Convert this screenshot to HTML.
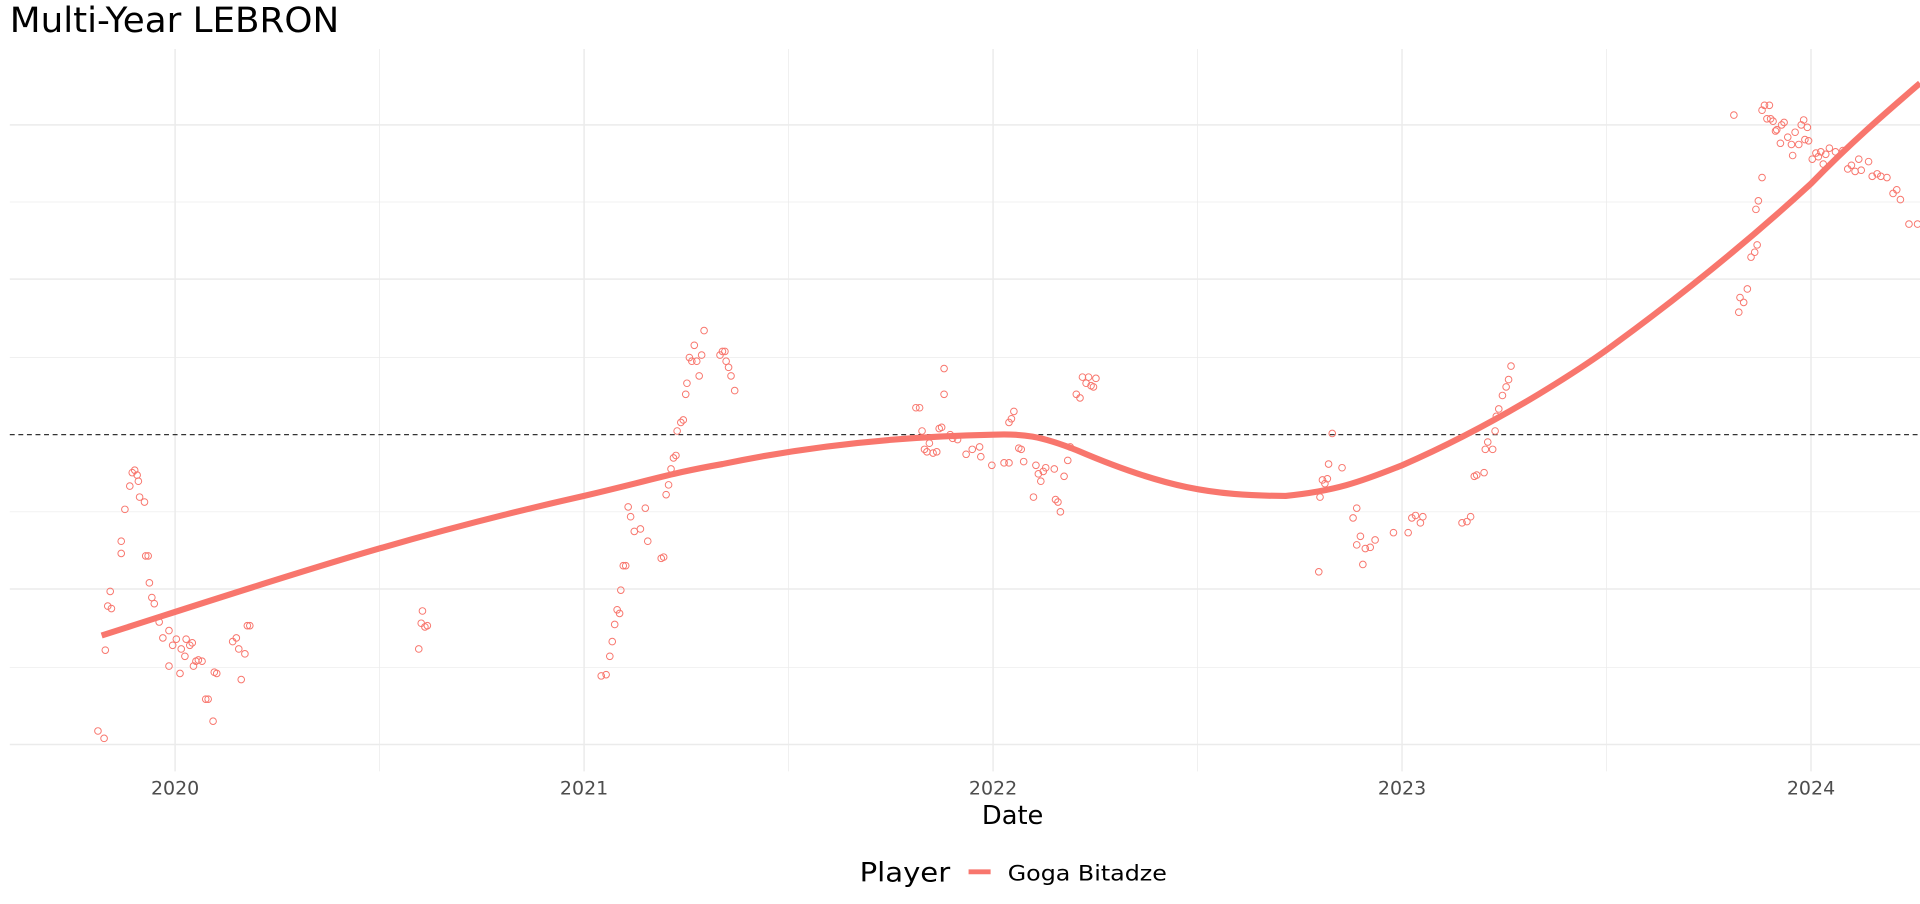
<!DOCTYPE html>
<html><head><meta charset="utf-8"><style>html,body{margin:0;padding:0;background:#fff;overflow:hidden}svg{display:block}</style></head>
<body>
<svg width="1920" height="904" viewBox="0 0 1568 738.3" preserveAspectRatio="none" xmlns="http://www.w3.org/2000/svg" font-family="DejaVu Sans, Liberation Sans, sans-serif">
<rect width="1568" height="738.3" fill="#fff"/>
<text x="8" y="26" font-size="28" fill="#000" textLength="269" lengthAdjust="spacingAndGlyphs">Multi-Year LEBRON</text>
<g stroke="#ebebeb" stroke-width="0.6">
<line x1="8" x2="1568" y1="165" y2="165"/><line x1="8" x2="1568" y1="292" y2="292"/><line x1="8" x2="1568" y1="418" y2="418"/><line x1="8" x2="1568" y1="545" y2="545"/>
<line x1="310" x2="310" y1="40" y2="630"/><line x1="644" x2="644" y1="40" y2="630"/><line x1="978" x2="978" y1="40" y2="630"/><line x1="1312" x2="1312" y1="40" y2="630"/>
</g>
<g stroke="#ebebeb" stroke-width="1.2">
<line x1="8" x2="1568" y1="102" y2="102"/><line x1="8" x2="1568" y1="228" y2="228"/><line x1="8" x2="1568" y1="481" y2="481"/><line x1="8" x2="1568" y1="608" y2="608"/>
<line x1="143" x2="143" y1="40" y2="630"/><line x1="477" x2="477" y1="40" y2="630"/><line x1="811" x2="811" y1="40" y2="630"/><line x1="1145" x2="1145" y1="40" y2="630"/><line x1="1479" x2="1479" y1="40" y2="630"/>
</g>
<line x1="8" x2="1568" y1="355" y2="355" stroke="#333" stroke-width="1" stroke-dasharray="4,3"/>
<g fill="none" stroke="#f8766d" stroke-width="0.8">
<circle cx="80" cy="597" r="2.7"/><circle cx="85" cy="603" r="2.7"/><circle cx="86" cy="531" r="2.7"/><circle cx="88" cy="495" r="2.7"/><circle cx="91" cy="497" r="2.7"/><circle cx="90" cy="483" r="2.7"/><circle cx="99" cy="452" r="2.7"/><circle cx="99" cy="442" r="2.7"/><circle cx="102" cy="416" r="2.7"/><circle cx="106" cy="397" r="2.7"/><circle cx="108" cy="386" r="2.7"/><circle cx="110" cy="384" r="2.7"/><circle cx="112" cy="388" r="2.7"/><circle cx="113" cy="393" r="2.7"/><circle cx="114" cy="406" r="2.7"/><circle cx="118" cy="410" r="2.7"/><circle cx="119" cy="454" r="2.7"/><circle cx="121" cy="454" r="2.7"/><circle cx="122" cy="476" r="2.7"/><circle cx="124" cy="488" r="2.7"/><circle cx="126" cy="493" r="2.7"/><circle cx="130" cy="508" r="2.7"/><circle cx="133" cy="521" r="2.7"/><circle cx="138" cy="515" r="2.7"/><circle cx="138" cy="544" r="2.7"/><circle cx="141" cy="527" r="2.7"/><circle cx="144" cy="522" r="2.7"/><circle cx="147" cy="550" r="2.7"/><circle cx="148" cy="530" r="2.7"/><circle cx="151" cy="536" r="2.7"/><circle cx="152" cy="522" r="2.7"/><circle cx="155" cy="527" r="2.7"/><circle cx="157" cy="525" r="2.7"/><circle cx="158" cy="544" r="2.7"/><circle cx="160" cy="540" r="2.7"/><circle cx="162" cy="539" r="2.7"/><circle cx="165" cy="540" r="2.7"/><circle cx="168" cy="571" r="2.7"/><circle cx="170" cy="571" r="2.7"/><circle cx="174" cy="589" r="2.7"/><circle cx="175" cy="549" r="2.7"/><circle cx="177" cy="550" r="2.7"/><circle cx="190" cy="524" r="2.7"/><circle cx="193" cy="521" r="2.7"/><circle cx="195" cy="530" r="2.7"/><circle cx="197" cy="555" r="2.7"/><circle cx="200" cy="534" r="2.7"/><circle cx="202" cy="511" r="2.7"/><circle cx="204" cy="511" r="2.7"/>
<circle cx="342" cy="530" r="2.7"/><circle cx="344" cy="509" r="2.7"/><circle cx="345" cy="499" r="2.7"/><circle cx="347" cy="512" r="2.7"/><circle cx="349" cy="511" r="2.7"/>
<circle cx="491" cy="552" r="2.7"/><circle cx="495" cy="551" r="2.7"/><circle cx="498" cy="536" r="2.7"/><circle cx="500" cy="524" r="2.7"/><circle cx="502" cy="510" r="2.7"/><circle cx="504" cy="498" r="2.7"/><circle cx="506" cy="501" r="2.7"/><circle cx="507" cy="482" r="2.7"/><circle cx="509" cy="462" r="2.7"/><circle cx="511" cy="462" r="2.7"/><circle cx="513" cy="414" r="2.7"/><circle cx="515" cy="422" r="2.7"/><circle cx="518" cy="434" r="2.7"/><circle cx="523" cy="432" r="2.7"/><circle cx="527" cy="415" r="2.7"/><circle cx="529" cy="442" r="2.7"/><circle cx="540" cy="456" r="2.7"/><circle cx="542" cy="455" r="2.7"/><circle cx="544" cy="404" r="2.7"/><circle cx="546" cy="396" r="2.7"/><circle cx="548" cy="383" r="2.7"/><circle cx="550" cy="374" r="2.7"/><circle cx="552" cy="372" r="2.7"/><circle cx="553" cy="352" r="2.7"/><circle cx="556" cy="345" r="2.7"/><circle cx="558" cy="343" r="2.7"/><circle cx="560" cy="322" r="2.7"/><circle cx="561" cy="313" r="2.7"/><circle cx="563" cy="292" r="2.7"/><circle cx="565" cy="295" r="2.7"/><circle cx="567" cy="282" r="2.7"/><circle cx="569" cy="295" r="2.7"/><circle cx="571" cy="307" r="2.7"/><circle cx="573" cy="290" r="2.7"/><circle cx="575" cy="270" r="2.7"/><circle cx="590" cy="287" r="2.7"/><circle cx="592" cy="287" r="2.7"/><circle cx="593" cy="295" r="2.7"/><circle cx="595" cy="300" r="2.7"/><circle cx="597" cy="307" r="2.7"/><circle cx="600" cy="319" r="2.7"/><circle cx="588" cy="290" r="2.7"/>
<circle cx="748" cy="333" r="2.7"/><circle cx="751" cy="333" r="2.7"/><circle cx="753" cy="352" r="2.7"/><circle cx="755" cy="367" r="2.7"/><circle cx="757" cy="369" r="2.7"/><circle cx="759" cy="362" r="2.7"/><circle cx="762" cy="370" r="2.7"/><circle cx="765" cy="369" r="2.7"/><circle cx="767" cy="350" r="2.7"/><circle cx="769" cy="349" r="2.7"/><circle cx="771" cy="322" r="2.7"/><circle cx="771" cy="301" r="2.7"/><circle cx="776" cy="355" r="2.7"/><circle cx="778" cy="358" r="2.7"/><circle cx="782" cy="359" r="2.7"/><circle cx="789" cy="371" r="2.7"/><circle cx="794" cy="367" r="2.7"/><circle cx="800" cy="365" r="2.7"/><circle cx="801" cy="373" r="2.7"/><circle cx="810" cy="380" r="2.7"/><circle cx="820" cy="378" r="2.7"/><circle cx="824" cy="378" r="2.7"/><circle cx="824" cy="345" r="2.7"/><circle cx="826" cy="342" r="2.7"/><circle cx="828" cy="336" r="2.7"/><circle cx="832" cy="366" r="2.7"/><circle cx="834" cy="367" r="2.7"/><circle cx="836" cy="377" r="2.7"/><circle cx="844" cy="406" r="2.7"/><circle cx="846" cy="380" r="2.7"/><circle cx="848" cy="387" r="2.7"/><circle cx="850" cy="393" r="2.7"/><circle cx="852" cy="385" r="2.7"/><circle cx="854" cy="382" r="2.7"/><circle cx="861" cy="383" r="2.7"/><circle cx="862" cy="408" r="2.7"/><circle cx="864" cy="410" r="2.7"/><circle cx="866" cy="418" r="2.7"/><circle cx="869" cy="389" r="2.7"/><circle cx="872" cy="376" r="2.7"/><circle cx="874" cy="365" r="2.7"/><circle cx="879" cy="322" r="2.7"/><circle cx="882" cy="325" r="2.7"/><circle cx="884" cy="308" r="2.7"/><circle cx="887" cy="313" r="2.7"/><circle cx="889" cy="308" r="2.7"/><circle cx="891" cy="315" r="2.7"/><circle cx="893" cy="316" r="2.7"/><circle cx="895" cy="309" r="2.7"/>
<circle cx="1077" cy="467" r="2.7"/><circle cx="1078" cy="406" r="2.7"/><circle cx="1080" cy="392" r="2.7"/><circle cx="1082" cy="395" r="2.7"/><circle cx="1084" cy="391" r="2.7"/><circle cx="1085" cy="379" r="2.7"/><circle cx="1088" cy="354" r="2.7"/><circle cx="1096" cy="382" r="2.7"/><circle cx="1105" cy="423" r="2.7"/><circle cx="1108" cy="415" r="2.7"/><circle cx="1108" cy="445" r="2.7"/><circle cx="1111" cy="438" r="2.7"/><circle cx="1113" cy="461" r="2.7"/><circle cx="1115" cy="448" r="2.7"/><circle cx="1119" cy="447" r="2.7"/><circle cx="1123" cy="441" r="2.7"/><circle cx="1138" cy="435" r="2.7"/><circle cx="1150" cy="435" r="2.7"/><circle cx="1153" cy="423" r="2.7"/><circle cx="1156" cy="421" r="2.7"/><circle cx="1160" cy="427" r="2.7"/><circle cx="1162" cy="422" r="2.7"/><circle cx="1194" cy="427" r="2.7"/><circle cx="1198" cy="426" r="2.7"/><circle cx="1201" cy="422" r="2.7"/><circle cx="1204" cy="389" r="2.7"/><circle cx="1206" cy="388" r="2.7"/><circle cx="1212" cy="386" r="2.7"/><circle cx="1213" cy="367" r="2.7"/><circle cx="1215" cy="361" r="2.7"/><circle cx="1219" cy="367" r="2.7"/><circle cx="1221" cy="352" r="2.7"/><circle cx="1222" cy="340" r="2.7"/><circle cx="1224" cy="334" r="2.7"/><circle cx="1227" cy="323" r="2.7"/><circle cx="1230" cy="316" r="2.7"/><circle cx="1232" cy="310" r="2.7"/><circle cx="1234" cy="299" r="2.7"/>
<circle cx="1416" cy="94" r="2.7"/><circle cx="1420" cy="255" r="2.7"/><circle cx="1421" cy="243" r="2.7"/><circle cx="1424" cy="247" r="2.7"/><circle cx="1427" cy="236" r="2.7"/><circle cx="1430" cy="210" r="2.7"/><circle cx="1433" cy="206" r="2.7"/><circle cx="1435" cy="200" r="2.7"/><circle cx="1434" cy="171" r="2.7"/><circle cx="1436" cy="164" r="2.7"/><circle cx="1439" cy="145" r="2.7"/><circle cx="1439" cy="90" r="2.7"/><circle cx="1441" cy="86" r="2.7"/><circle cx="1443" cy="97" r="2.7"/><circle cx="1445" cy="86" r="2.7"/><circle cx="1446" cy="97" r="2.7"/><circle cx="1448" cy="99" r="2.7"/><circle cx="1450" cy="107" r="2.7"/><circle cx="1451" cy="106" r="2.7"/><circle cx="1454" cy="117" r="2.7"/><circle cx="1455" cy="102" r="2.7"/><circle cx="1457" cy="100" r="2.7"/><circle cx="1460" cy="112" r="2.7"/><circle cx="1463" cy="118" r="2.7"/><circle cx="1464" cy="127" r="2.7"/><circle cx="1466" cy="108" r="2.7"/><circle cx="1469" cy="118" r="2.7"/><circle cx="1471" cy="102" r="2.7"/><circle cx="1473" cy="98" r="2.7"/><circle cx="1474" cy="114" r="2.7"/><circle cx="1476" cy="104" r="2.7"/><circle cx="1477" cy="115" r="2.7"/><circle cx="1480" cy="130" r="2.7"/><circle cx="1483" cy="125" r="2.7"/><circle cx="1485" cy="128" r="2.7"/><circle cx="1487" cy="124" r="2.7"/><circle cx="1489" cy="134" r="2.7"/><circle cx="1491" cy="126" r="2.7"/><circle cx="1494" cy="121" r="2.7"/><circle cx="1499" cy="124" r="2.7"/><circle cx="1505" cy="123" r="2.7"/><circle cx="1509" cy="138" r="2.7"/><circle cx="1512" cy="135" r="2.7"/><circle cx="1515" cy="140" r="2.7"/><circle cx="1518" cy="130" r="2.7"/><circle cx="1520" cy="139" r="2.7"/><circle cx="1526" cy="132" r="2.7"/><circle cx="1529" cy="144" r="2.7"/><circle cx="1533" cy="142" r="2.7"/><circle cx="1536" cy="144" r="2.7"/><circle cx="1541" cy="145" r="2.7"/><circle cx="1546" cy="158" r="2.7"/><circle cx="1549" cy="155" r="2.7"/><circle cx="1552" cy="163" r="2.7"/><circle cx="1559" cy="183" r="2.7"/><circle cx="1566" cy="183" r="2.7"/>
</g>
<path d="M83,519 C230,472 330,438 477,405 C540,390 550,386 590,379 C680,360 760,356 811,355 C835,354 850,356 880,368 C950,398 990,405 1050,405 C1090,401 1110,394 1145,380 C1230,343 1300,295 1320,280 C1380,236 1430,195 1479,150 C1510,118 1540,92 1568,68" fill="none" stroke="#f8766d" stroke-width="5"/>
<g font-size="15.5" fill="#4d4d4d" text-anchor="middle">
<text x="143" y="649">2020</text><text x="477" y="649">2021</text><text x="811" y="649">2022</text><text x="1145" y="649">2023</text><text x="1479" y="649">2024</text>
</g>
<text x="827" y="673" font-size="21" text-anchor="middle" fill="#000">Date</text>
<text x="702" y="720" font-size="22" fill="#000" textLength="74" lengthAdjust="spacingAndGlyphs">Player</text>
<line x1="791" x2="809" y1="712" y2="712" stroke="#f8766d" stroke-width="4"/>
<text x="823" y="719" font-size="17.5" fill="#000" textLength="130" lengthAdjust="spacingAndGlyphs">Goga Bitadze</text>
</svg>
</body></html>
